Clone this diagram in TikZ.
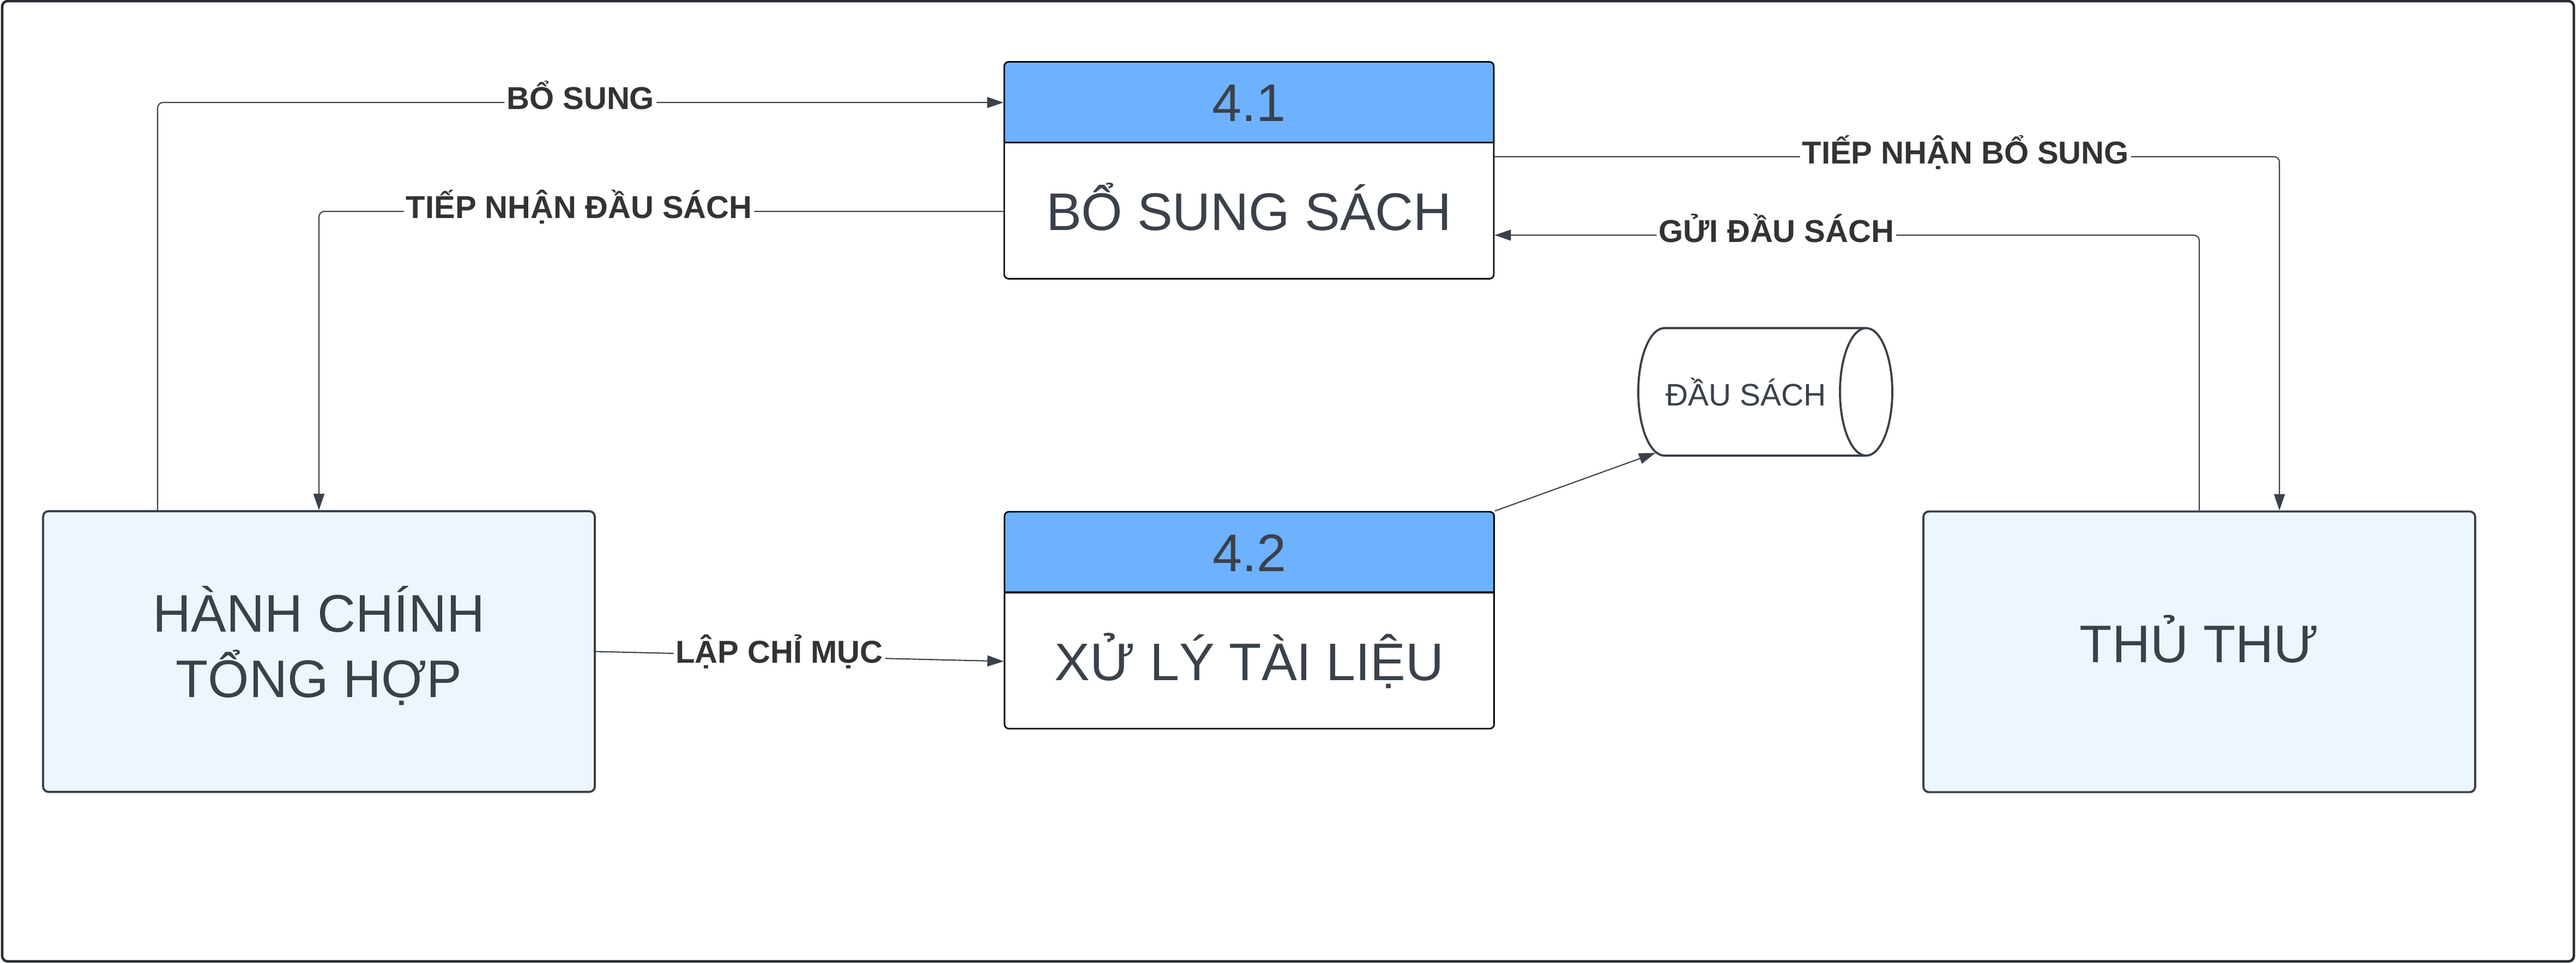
\documentclass[tikz,border=0pt]{standalone}
\usepackage{fontspec}
\setmainfont{Liberation Sans}
\usetikzlibrary{
  arrows.meta, % for the Triangle arrow tip
  shapes.geometric, % for the cylinder of the data store
}
\definecolor{ink}{HTML}{3A414A}
\definecolor{labelink}{HTML}{333333}
\definecolor{frameink}{HTML}{282C33}
\definecolor{headblue}{HTML}{6DB1FF}
\definecolor{entityfill}{HTML}{EDF5FF}
\tikzset{
  entity/.style={ % style for the external entities
    rectangle,draw=ink,line width=1.1pt, % drawn as a thick rectangle
    rounded corners=0.1cm,
    fill=entityfill, % light blue fill
    minimum width=10.12cm,minimum height=5.15cm,
    align=center,text=ink,
    font=\fontsize{27.6}{34.2}\selectfont,
  },
  process/.style={ % style for the processes, blue header on top
    rectangle,draw=black,line width=0.8pt,
    rounded corners=0.08cm,
    fill=white,
    minimum width=8.98cm,minimum height=3.98cm,
    path picture={
      \fill[headblue,sharp corners] (path picture bounding box.north west) rectangle ([yshift=-1.48cm]path picture bounding box.north east);
      \draw[black,line width=1.1pt,sharp corners] ([yshift=-1.48cm]path picture bounding box.north west) -- ([yshift=-1.48cm]path picture bounding box.north east);
    },
  },
  ptext/.style={ % texts in the processes
    text=ink,
    font=\fontsize{27.6}{33.1}\selectfont,
    text height=19.8pt,text depth=0pt, % center on the capitals
  },
  store/.style={ % style for the data store
    cylinder,draw=ink,line width=1.1pt,
    shape aspect=1.28,
    minimum width=2.34cm,minimum height=4.66cm,
    text=ink,
    font=\fontsize{16.2}{19.4}\selectfont,
  },
  conn/.style={ % style for the data flows
    -{Triangle[length=0.3cm,width=0.2cm]}, % filled arrow tip
    draw=ink,line width=0.6pt,
    rounded corners=0.1cm,
  },
  lbl/.style={ % style for the flow labels
    fill=white,text=labelink,
    font=\bfseries\fontsize{16.5}{19.8}\selectfont,
    inner sep=0.04cm,
    text height=11.8pt,text depth=0pt,
    yshift=0.08cm,
  },
}
\begin{document}
\begin{tikzpicture}

	\useasboundingbox (0,0) rectangle (47.25,-17.66);
	\draw[frameink,line width=1.3pt,rounded corners=0.1cm] (0.04,-0.02) rectangle (47.21,-17.64);

	\node[entity,text height=54pt,text depth=6.2pt] (hcth) at (5.85,-11.955) {HÀNH CHÍNH\\TỔNG HỢP};
	\node[entity,text height=19.8pt,text depth=8.6pt] (tt) at (40.34,-11.96) {THỦ THƯ};

	\node[process] (p41) at (22.91,-3.125) {};
	\node[ptext] (n41) at ([yshift=-0.76cm]p41.north) {4.1};
	\node[ptext] (t41) at ([yshift=1.25cm]p41.south) {BỔ SUNG SÁCH};

	\node[process] (p42) at (22.915,-11.38) {};
	\node[ptext] (n42) at ([yshift=-0.76cm]p42.north) {4.2};
	\node[ptext] (t42) at ([yshift=1.25cm]p42.south) {XỬ LÝ TÀI LIỆU};

	\node[store,anchor=west] (ds) at (30.03,-7.19) {ĐẦU SÁCH};

	\draw[conn] ([xshift=-2.96cm]hcth.north) |- node[lbl,pos=0.75] (lbs) {BỔ SUNG} (n41 -| p41.west);
	\draw[conn] (t41 -| p41.west) -| node[lbl,pos=0.31] (ltnds) {TIẾP NHẬN ĐẦU SÁCH} (hcth.north);

	\draw[conn] ([yshift=0.25cm]p41.east) -| node[lbl,pos=0.3] (ltnbs) {TIẾP NHẬN BỔ SUNG} ([xshift=1.47cm]tt.north);
	\draw[conn] (tt.north) |- node[lbl,pos=0.8] (lgds) {GỬI ĐẦU SÁCH} ([yshift=-1.19cm]p41.east);

	\draw[conn] (hcth.east) -- node[lbl,pos=0.45] (llcm) {LẬP CHỈ MỤC} (t42 -| p42.west);
	\draw[conn] (p42.north east) -- (ds.214);

\end{tikzpicture}
\end{document}
